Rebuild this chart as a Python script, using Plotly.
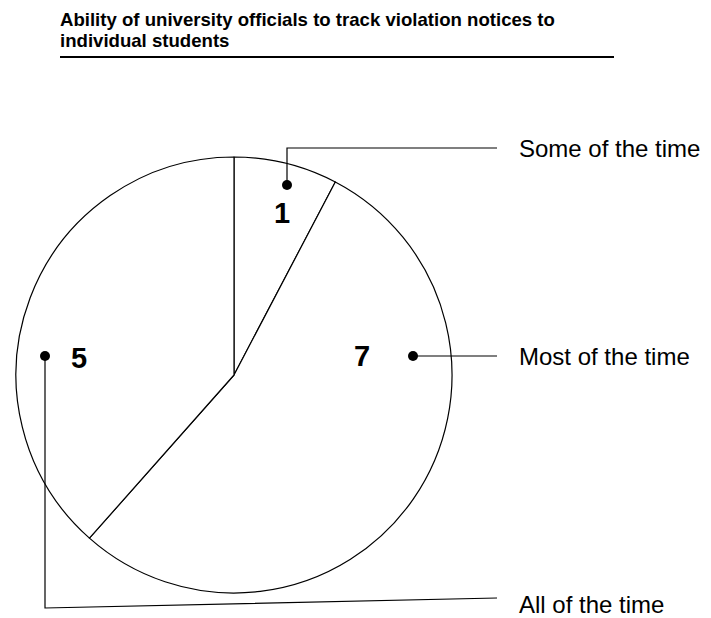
import plotly.graph_objects as go

# Survey responses
categories = ["Some of the time", "Most of the time", "All of the time"]
counts = [1, 7, 5]
title_lines = ["Ability of university officials to track violation notices to",
               "individual students"]

W, H = 711, 618
CX, CY, R = 234, 375, 218          # pie centre and radius (px)

fig = go.Figure()

fig.add_trace(go.Pie(
    labels=categories, values=counts, sort=False, direction="clockwise",
    rotation=0, textinfo="none", hoverinfo="label+value",
    marker=dict(colors=["white"] * 3, line=dict(color="black", width=1.2)),
    domain=dict(x=[(CX - R) / W, (CX + R) / W],
                y=[1 - (CY + R) / H, 1 - (CY - R) / H]),
    showlegend=False,
))

# invisible trace so the pixel-scaled cartesian axes exist for the callouts
fig.add_trace(go.Scatter(x=[0, W], y=[0, H], mode="markers", marker=dict(opacity=0),
                         hoverinfo="skip", showlegend=False))

# Callout anchors: dot position, value label position, and leader path to the text
callouts = [
    dict(dot=(287, 185), num=(282, 213), path=[(287, 185), (287, 148), (497, 148)], text_y=148),
    dict(dot=(413, 356), num=(362, 356), path=[(413, 356), (497, 356)], text_y=356),
    dict(dot=(45, 356), num=(79, 358), path=[(45, 356), (45, 608), (497, 598)], text_y=604),
]

font = "Liberation Sans, Arial, Helvetica, sans-serif"
DOT_R = 5

for cat, val, c in zip(categories, counts, callouts):
    d = "M " + " L ".join(f"{x},{y}" for x, y in c["path"])
    fig.add_shape(type="path", path=d, layer="above", xref="x", yref="y",
                  line=dict(color="black", width=1.2))
    dx, dy = c["dot"]
    fig.add_shape(type="circle", layer="above", xref="x", yref="y",
                  x0=dx - DOT_R, x1=dx + DOT_R, y0=dy - DOT_R, y1=dy + DOT_R,
                  fillcolor="black", line=dict(color="black", width=0))
    fig.add_annotation(x=c["num"][0], y=c["num"][1], xref="x", yref="y",
                       text=f"<b>{val}</b>", showarrow=False,
                       font=dict(family=font, size=29, color="black"),
                       xanchor="center", yanchor="middle")
    fig.add_annotation(x=517, y=c["text_y"], xref="x", yref="y", text=cat, showarrow=False,
                       font=dict(family=font, size=24, color="black"),
                       xanchor="left", yanchor="middle")

# Title (two lines) and rule
for line, ty in zip(title_lines, [19, 40]):
    fig.add_annotation(x=58, y=ty, xref="x", yref="y", text=f"<b>{line}</b>",
                       showarrow=False, align="left", xanchor="left", yanchor="middle",
                       font=dict(family=font, size=18.6, color="black"))
fig.add_shape(type="line", x0=60, x1=614, y0=57, y1=57, xref="x", yref="y",
              line=dict(color="black", width=2.2))

fig.update_layout(
    width=W, height=H, margin=dict(l=0, r=0, t=0, b=0),
    paper_bgcolor="white", plot_bgcolor="rgba(0,0,0,0)",
    xaxis=dict(range=[0, W], visible=False, fixedrange=True),
    yaxis=dict(range=[H, 0], visible=False, fixedrange=True),
)

fig.write_html("out.html")
